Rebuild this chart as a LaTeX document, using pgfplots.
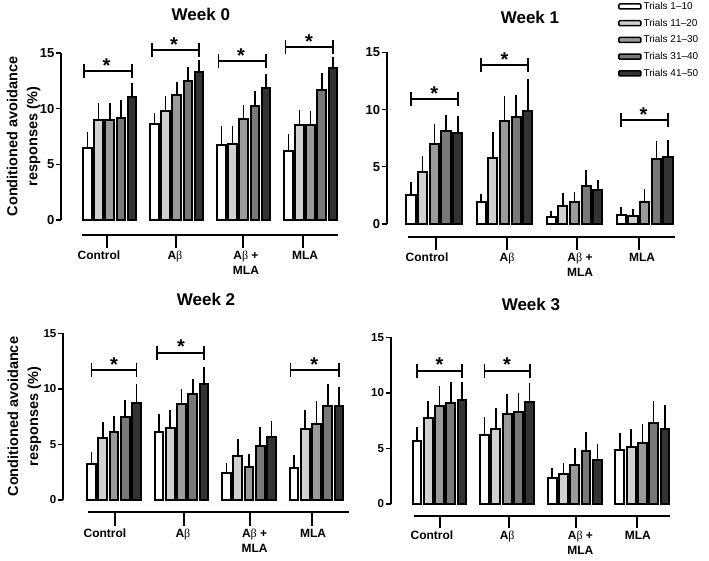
\documentclass[border=0pt]{standalone}
\usepackage{fontspec}
\setmainfont{Liberation Sans}
\newfontfamily\serifb{Liberation Serif}
\usepackage{pgfplots}
\pgfplotsset{compat=1.18}
\definecolor{cA}{HTML}{FFFFFF}
\definecolor{cB}{HTML}{D0D0D0}
\definecolor{cC}{HTML}{9A9A9A}
\definecolor{cD}{HTML}{787878}
\definecolor{cE}{HTML}{333333}
\newcommand{\Ab}{A{\serifb\mdseries β}}
\tikzset{
  cat/.style={anchor=north, font=\bfseries\fontsize{12bp}{15bp}\selectfont, align=center, yshift=-2bp, inner sep=1bp},
  br/.style={line width=1.8bp, black},
  star/.style={anchor=base, font=\bfseries\fontsize{20bp}{20bp}\selectfont, inner sep=0pt, yshift=-1.2bp},
  caxis/.style={line width=1.5bp, black},
}
\newcommand{\brk}[4]{%
  \draw[br] (axis cs:#1,#3) -- (axis cs:#2,#3);
  \draw[br] ([yshift=7bp]axis cs:#1,#3) -- ([yshift=-7bp]axis cs:#1,#3);
  \draw[br] ([yshift=7bp]axis cs:#2,#3) -- ([yshift=-7bp]axis cs:#2,#3);
  \node[star] at (axis cs:#4,#3) {*};}
\pgfplotsset{
  panel/.style={
    scale only axis, anchor=south west,
    ymin=0, ymax=15, ytick={0,5,10,15},
    axis y line*=left, axis x line=none, xtick=\empty,
    clip=false,
    tick align=outside, major tick length=5bp,
    every tick/.style={black, line width=1.4bp},
    axis line style={line width=1.6bp, black},
    /pgf/number format/assume math mode=true,
    yticklabel style={font=\bfseries\fontsize{13bp}{13bp}\selectfont, inner sep=1.5bp},
    title style={font=\bfseries\fontsize{17bp}{17bp}\selectfont, anchor=center},
    ylabel style={font=\bfseries\fontsize{14.5bp}{20bp}\selectfont, align=center, anchor=center, at={(axis description cs:-0.135,0.5)}},
  },
  tb/.style={draw=black, line width=2bp, ybar, bar width=0.78, bar shift=0pt,
    legend image code/.code={\draw[##1, line width=1.5bp, rounded corners=1bp] (0bp,-2.5bp) rectangle (22bp,2.5bp);},
    /pgfplots/error bars/y dir=plus, /pgfplots/error bars/y explicit,
    /pgfplots/error bars/error bar style={line width=1.6bp, black},
    /pgfplots/error bars/error mark options={mark size=2.4bp, line width=1.6bp, black}},
}
\begin{document}
\begin{tikzpicture}
\path[use as bounding box] (0,0) rectangle (709bp,561bp);
% ---------------- Week 0
\begin{axis}[panel, at={(61bp,341bp)}, width=277bp, height=167bp, xmin=-2.37, xmax=22.45,
  title={Week 0}, title style={at={(axis description cs:0.505,1.198)}},
  ylabel={Conditioned avoidance\\responses (\%)}]
\addplot[tb, fill=cA] coordinates {(0,6.45) +- (0,1.2) (6,8.6) +- (0,0.76) (12,6.7) +- (0,1.55) (18,6.2) +- (0,1.3)};
\addplot[tb, fill=cB] coordinates {(1,9.0) +- (0,1.26) (7,9.8) +- (0,1.1) (13,6.85) +- (0,1.4) (19,8.55) +- (0,1.15)};
\addplot[tb, fill=cC] coordinates {(2,9.0) +- (0,1.26) (8,11.2) +- (0,1.0) (14,9.1) +- (0,1.05) (20,8.55) +- (0,1.0)};
\addplot[tb, fill=cD] coordinates {(3,9.15) +- (0,1.41) (9,12.5) +- (0,1.0) (15,10.2) +- (0,1.2) (21,11.67) +- (0,1.29)};
\addplot[tb, fill=cE] coordinates {(4,11.04) +- (0,1.06) (10,13.3) +- (0,0.9) (16,11.85) +- (0,1.05) (22,13.65) +- (0,0.81)};
\draw[caxis] (axis cs:-0.49,-1.35) -- (axis cs:22.45,-1.35);
\draw[caxis] (axis cs:1.75,-1.35) -- (axis cs:1.75,-2.52);
\draw[caxis] (axis cs:7.93,-1.35) -- (axis cs:7.93,-2.52);
\draw[caxis] (axis cs:13.93,-1.35) -- (axis cs:13.93,-2.52);
\draw[caxis] (axis cs:19.3,-1.35) -- (axis cs:19.3,-2.52);
\node[cat] at (axis cs:1.03,-2.52) {Control};
\node[cat] at (axis cs:7.84,-2.52) {\Ab};
\node[cat] at (axis cs:14.2,-2.52) {\Ab\ +\\MLA};
\node[cat] at (axis cs:19.5,-2.52) {MLA};
\brk{-0.3}{4}{13.4}{1.7}
\brk{5.75}{10}{15.25}{7.75}
\brk{11.75}{16}{14.25}{13.75}
\brk{17.75}{22}{15.55}{19.85}
\end{axis}
% ---------------- Week 1
\begin{axis}[panel, at={(386.7bp,337bp)}, width=288.3bp, height=171.7bp, xmin=-2.08, xmax=22.6,
  title={Week 1}, title style={at={(axis description cs:0.497,1.171)}},
  legend style={at={(axis description cs:0.802,1.305)}, anchor=north west, draw=none, fill=none,
    font=\fontsize{10bp}{11bp}\selectfont, row sep=4bp, inner sep=0pt},
  legend cell align=left]
\addplot[tb, fill=cA] coordinates {(0,2.53) +- (0,0.97) (6,1.95) +- (0,0.5) (12,0.64) +- (0,0.29) (18,0.79) +- (0,0.49)};
\addplot[tb, fill=cB] coordinates {(1,4.57) +- (0,1.17) (7,5.8) +- (0,2.04) (13,1.6) +- (0,0.93) (19,0.7) +- (0,0.44)};
\addplot[tb, fill=cC] coordinates {(2,7.0) +- (0,1.56) (8,9.0) +- (0,1.98) (14,1.95) +- (0,0.67) (20,1.95) +- (0,0.88)};
\addplot[tb, fill=cD] coordinates {(3,8.13) +- (0,1.19) (9,9.32) +- (0,1.72) (15,3.32) +- (0,1.17) (21,5.65) +- (0,1.4)};
\addplot[tb, fill=cE] coordinates {(4,7.98) +- (0,1.22) (10,9.9) +- (0,2.54) (16,2.97) +- (0,0.7) (22,5.83) +- (0,1.27)};
\legend{Trials 1–10, Trials 11–20, Trials 21–30, Trials 31–40, Trials 41–50}
\draw[caxis] (axis cs:-0.26,-1.14) -- (axis cs:22.6,-1.14);
\draw[caxis] (axis cs:2.14,-1.14) -- (axis cs:2.14,-2.27);
\draw[caxis] (axis cs:8.22,-1.14) -- (axis cs:8.22,-2.27);
\draw[caxis] (axis cs:14.2,-1.14) -- (axis cs:14.2,-2.27);
\draw[caxis] (axis cs:19.5,-1.14) -- (axis cs:19.5,-2.27);
\node[cat] at (axis cs:1.37,-2.27) {Control};
\node[cat] at (axis cs:8.22,-2.27) {\Ab};
\node[cat] at (axis cs:14.47,-2.27) {\Ab\ +\\MLA};
\node[cat] at (axis cs:19.78,-2.27) {MLA};
\brk{0}{4}{10.9}{2}
\brk{6}{10}{13.87}{8}
\brk{18}{22}{9.09}{19.9}
\end{axis}
% ---------------- Week 2
\begin{axis}[panel, at={(63bp,61bp)}, width=286.1bp, height=166.7bp, xmin=-2.53, xmax=22.9,
  yticklabel style={font=\bfseries\fontsize{11.5bp}{11.5bp}\selectfont},
  title={Week 2}, title style={at={(axis description cs:0.5,1.17)}},
  ylabel={Conditioned avoidance\\responses (\%)}]
\addplot[tb, fill=cA] coordinates {(0,3.2) +- (0,0.94) (6,6.15) +- (0,1.35) (12,2.46) +- (0,0.69) (18,2.85) +- (0,0.99)};
\addplot[tb, fill=cB] coordinates {(1,5.55) +- (0,1.29) (7,6.5) +- (0,1.36) (13,3.96) +- (0,1.29) (19,6.36) +- (0,1.53)};
\addplot[tb, fill=cC] coordinates {(2,6.15) +- (0,1.2) (8,8.64) +- (0,1.17) (14,3.0) +- (0,0.9) (20,6.84) +- (0,1.86)};
\addplot[tb, fill=cD] coordinates {(3,7.44) +- (0,1.32) (9,9.5) +- (0,1.15) (15,4.86) +- (0,1.53) (21,8.49) +- (0,1.77)};
\addplot[tb, fill=cE] coordinates {(4,8.7) +- (0,1.56) (10,10.47) +- (0,1.29) (16,5.64) +- (0,1.26) (22,8.49) +- (0,1.47)};
\draw[caxis] (axis cs:-0.31,-1.08) -- (axis cs:22.9,-1.08);
\draw[caxis] (axis cs:2.09,-1.08) -- (axis cs:2.09,-2.34);
\draw[caxis] (axis cs:8.22,-1.08) -- (axis cs:8.22,-2.34);
\draw[caxis] (axis cs:14.09,-1.08) -- (axis cs:14.09,-2.34);
\draw[caxis] (axis cs:19.6,-1.08) -- (axis cs:19.6,-2.34);
\node[cat] at (axis cs:1.2,-2.34) {Control};
\node[cat] at (axis cs:8.13,-2.34) {\Ab};
\node[cat] at (axis cs:14.5,-2.34) {\Ab\ +\\MLA};
\node[cat] at (axis cs:19.7,-2.34) {MLA};
\brk{0}{4}{11.7}{2}
\brk{5.85}{10}{13.26}{7.95}
\brk{17.7}{22}{11.7}{19.8}
\end{axis}
% ---------------- Week 3
\begin{axis}[panel, at={(390.7bp,57bp)}, width=279.3bp, height=166.7bp, xmin=-2.33, xmax=22.45,
  yticklabel style={font=\bfseries\fontsize{11.5bp}{11.5bp}\selectfont},
  title={Week 3}, title style={at={(axis description cs:0.502,1.164)}}]
\addplot[tb, fill=cA] coordinates {(0,5.7) +- (0,1.02) (6,6.21) +- (0,1.41) (12,2.31) +- (0,0.75) (18,4.86) +- (0,1.29)};
\addplot[tb, fill=cB] coordinates {(1,7.77) +- (0,1.29) (7,6.75) +- (0,1.71) (13,2.67) +- (0,0.78) (19,5.1) +- (0,1.41)};
\addplot[tb, fill=cC] coordinates {(2,8.85) +- (0,1.56) (8,8.1) +- (0,1.62) (14,3.51) +- (0,1.29) (20,5.46) +- (0,1.5)};
\addplot[tb, fill=cD] coordinates {(3,9.12) +- (0,1.65) (9,8.31) +- (0,1.5) (15,4.8) +- (0,1.5) (21,7.26) +- (0,1.8)};
\addplot[tb, fill=cE] coordinates {(4,9.36) +- (0,1.41) (10,9.21) +- (0,1.5) (16,3.96) +- (0,1.26) (22,6.72) +- (0,1.98)};
\draw[caxis] (axis cs:-0.27,-1.08) -- (axis cs:22.45,-1.08);
\draw[caxis] (axis cs:2.04,-1.08) -- (axis cs:2.04,-2.16);
\draw[caxis] (axis cs:8.16,-1.08) -- (axis cs:8.16,-2.16);
\draw[caxis] (axis cs:14.1,-1.08) -- (axis cs:14.1,-2.16);
\draw[caxis] (axis cs:19.5,-1.08) -- (axis cs:19.5,-2.16);
\node[cat] at (axis cs:1.33,-2.16) {Control};
\node[cat] at (axis cs:8.0,-2.16) {\Ab};
\node[cat] at (axis cs:14.5,-2.16) {\Ab\ +\\MLA};
\node[cat] at (axis cs:19.6,-2.16) {MLA};
\brk{0}{4}{12.0}{2}
\brk{6}{10.05}{12.0}{8}
\end{axis}
\end{tikzpicture}
\end{document}
